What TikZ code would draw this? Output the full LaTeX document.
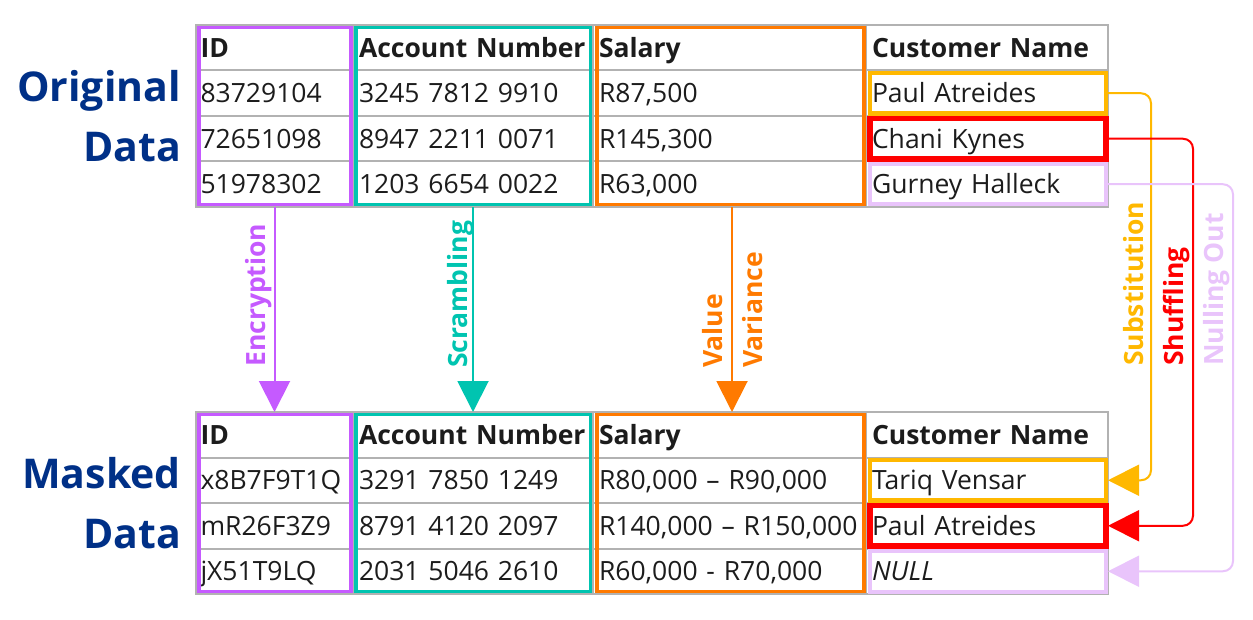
\documentclass[tikz,border=0pt]{standalone}
\usepackage{fontspec}
\setmainfont{Open Sans}
\usetikzlibrary{arrows.meta}
\definecolor{xpurple}{RGB}{197,90,255}
\definecolor{xteal}{RGB}{0,196,176}
\definecolor{xorange}{RGB}{255,122,0}
\definecolor{xyellow}{RGB}{255,184,0}
\definecolor{xred}{RGB}{255,0,0}
\definecolor{xlilac}{RGB}{233,196,251}
\definecolor{xnavy}{RGB}{0,48,135}
\definecolor{xgray}{RGB}{178,178,178}
\definecolor{xtext}{RGB}{28,28,28}
\begin{document}
\begin{tikzpicture}[x=1pt,y=-1pt,>={Triangle[length=31pt,width=31pt]},font=\fontsize{26.5}{32}\selectfont]
\tikzset{cell/.style={draw=xgray,line width=2pt,outer sep=0pt,inner xsep=6pt,inner ysep=0pt,minimum height=45.5pt,text height=19pt,text depth=0pt,align=left,anchor=north west,text=xtext}}
\tikzset{idc/.style={cell,inner xsep=4.5pt,text width=148pt}}
\tikzset{accc/.style={cell,text width=228pt}}
\tikzset{salc/.style={cell,text width=261pt}}
\tikzset{cusc/.style={cell,text width=230pt}}
\tikzset{hdr/.style={font=\fontsize{26.5}{32}\selectfont\bfseries}}
\tikzset{title/.style={text=xnavy,inner sep=0pt,font=\fontsize{41}{60}\selectfont\bfseries,align=right,anchor=east}}
\tikzset{lbl/.style={rotate=90,inner sep=0pt,anchor=base west,font=\fontsize{26.5}{32}\selectfont\bfseries}}
\tikzset{colbox/.style={line width=3.5pt}}
\tikzset{link/.style={->,line width=2pt}}
\useasboundingbox (0,0) rectangle (1253,620);
\node[title] (otitle) at (181,116.5) {Original\\Data};
\node[title] (mtitle) at (181,503.5) {Masked\\Data};
\node[idc,hdr] (oid0) at (196,25) {ID};
\node[idc] (oid1) at (196,70.5) {83729104};
\node[idc] (oid2) at (196,116) {72651098};
\node[idc] (oid3) at (196,161.5) {51978302};
\node[accc,hdr] (oacc0) at (353,25) {Account Number};
\node[accc] (oacc1) at (353,70.5) {3245 7812 9910};
\node[accc] (oacc2) at (353,116) {8947 2211 0071};
\node[accc] (oacc3) at (353,161.5) {1203 6654 0022};
\node[salc,hdr] (osal0) at (593,25) {Salary};
\node[salc] (osal1) at (593,70.5) {R87,500};
\node[salc] (osal2) at (593,116) {R145,300};
\node[salc] (osal3) at (593,161.5) {R63,000};
\node[cusc,hdr] (ocus0) at (866,25) {Customer Name};
\node[cusc] (ocus1) at (866,70.5) {Paul Atreides};
\node[cusc] (ocus2) at (866,116) {Chani Kynes};
\node[cusc] (ocus3) at (866,161.5) {Gurney Halleck};
\node[idc,hdr] (mid0) at (196,412) {ID};
\node[idc] (mid1) at (196,457.5) {x8B7F9T1Q};
\node[idc] (mid2) at (196,503) {mR26F3Z9};
\node[idc] (mid3) at (196,548.5) {jX51T9LQ};
\node[accc,hdr] (macc0) at (353,412) {Account Number};
\node[accc] (macc1) at (353,457.5) {3291 7850 1249};
\node[accc] (macc2) at (353,503) {8791 4120 2097};
\node[accc] (macc3) at (353,548.5) {2031 5046 2610};
\node[salc,hdr] (msal0) at (593,412) {Salary};
\node[salc] (msal1) at (593,457.5) {R80,000 – R90,000};
\node[salc] (msal2) at (593,503) {R140,000 – R150,000};
\node[salc] (msal3) at (593,548.5) {R60,000 - R70,000};
\node[cusc,hdr] (mcus0) at (866,412) {Customer Name};
\node[cusc] (mcus1) at (866,457.5) {Tariq Vensar};
\node[cusc] (mcus2) at (866,503) {Paul Atreides};
\node[cusc] (mcus3) at (866,548.5) {\textit{NULL}};
\draw[colbox,xpurple] ([shift={(3,2.5)}]oid0.north west) rectangle ([shift={(-2,-2.5)}]oid3.south east);
\draw[colbox,xteal] ([shift={(3,2.5)}]oacc0.north west) rectangle ([shift={(-2.5,-2.5)}]oacc3.south east);
\draw[colbox,xorange] ([shift={(4,2.5)}]osal0.north west) rectangle ([shift={(-2,-2.5)}]osal3.south east);
\draw[colbox,xpurple] ([shift={(3,2.5)}]mid0.north west) rectangle ([shift={(-2,-2.5)}]mid3.south east);
\draw[colbox,xteal] ([shift={(3,2.5)}]macc0.north west) rectangle ([shift={(-2.5,-2.5)}]macc3.south east);
\draw[colbox,xorange] ([shift={(4,2.5)}]msal0.north west) rectangle ([shift={(-2,-2.5)}]msal3.south east);
\draw[xyellow,line width=4.5pt] ([shift={(4,2.5)}]ocus1.north west) rectangle ([shift={(-2,-2.5)}]ocus1.south east);
\draw[xred,line width=5.5pt] ([shift={(4,2.5)}]ocus2.north west) rectangle ([shift={(-2,-2.5)}]ocus2.south east);
\draw[xlilac,line width=4pt] ([shift={(4,2.5)}]ocus3.north west) rectangle ([shift={(-2,-2.5)}]ocus3.south east);
\draw[xyellow,line width=4.5pt] ([shift={(4,2.5)}]mcus1.north west) rectangle ([shift={(-2,-2.5)}]mcus1.south east);
\draw[xred,line width=5.5pt] ([shift={(4,2.5)}]mcus2.north west) rectangle ([shift={(-2,-2.5)}]mcus2.south east);
\draw[xlilac,line width=4pt] ([shift={(4,2.5)}]mcus3.north west) rectangle ([shift={(-2,-2.5)}]mcus3.south east);
\draw[link,xpurple] (oid3.south) -- (mid0.north);
\node[lbl,text=xpurple] (encl) at (265,367) {Encryption};
\draw[link,xteal] (oacc3.south) -- (macc0.north);
\node[lbl,text=xteal] (scrl) at (467,368) {Scrambling};
\draw[link,xorange] ([xshift=2.5pt]osal3.south) -- ([xshift=2.5pt]msal0.north);
\node[lbl,text=xorange] (vall) at (722,368) {Value};
\node[lbl,text=xorange] (varl) at (762,368) {Variance};
\draw[link,xyellow,rounded corners=10pt] (ocus1.east) -- ++(43,0) |- (mcus1.east);
\node[lbl,text=xyellow] (subl) at (1143,366) {Substitution};
\draw[link,xred,rounded corners=10pt] (ocus2.east) -- ++(85,0) |- (mcus2.east);
\node[lbl,text=xred] (shul) at (1183,366) {Shuffling};
\draw[link,xlilac,rounded corners=10pt] (ocus3.east) -- ++(125,0) |- (mcus3.east);
\node[lbl,text=xlilac] (nulll) at (1223,366) {Nulling Out};
\end{tikzpicture}
\end{document}
